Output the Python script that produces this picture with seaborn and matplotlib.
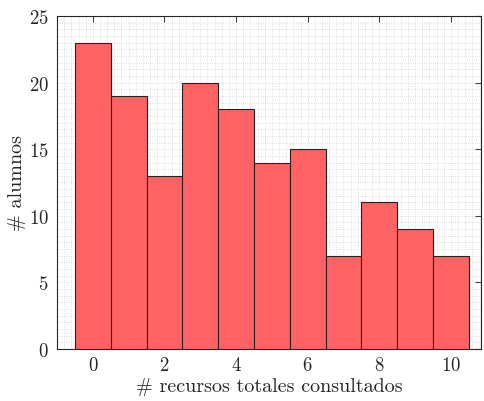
import numpy as np
import matplotlib
matplotlib.use('Agg')
import matplotlib.pyplot as plt
import seaborn as sns
from matplotlib.ticker import MultipleLocator

# recursos consultados (0..10) and number of students for each
recursos = [0, 1, 2, 3, 4, 5, 6, 7, 8, 9, 10]
alumnos = [23, 19, 13, 20, 18, 14, 15, 7, 11, 9, 7]

sns.set_style('white')
plt.rcParams['font.family'] = ['cmr10', 'DejaVu Serif']
plt.rcParams['axes.formatter.use_mathtext'] = True
plt.rcParams['mathtext.fontset'] = 'cm'

fig = plt.figure(figsize=(4.84, 4.02), dpi=100)
ax = fig.add_axes([0.1178, 0.1294, 0.876, 0.8283])

sns.histplot(x=recursos, weights=alumnos, discrete=True, ax=ax,
             color='#ff6262', alpha=1.0, edgecolor='#2a2020', linewidth=0.8,
             zorder=3)

ax.set_xlim(-1.0, 10.84)
ax.set_ylim(0, 25)
ax.xaxis.set_major_locator(MultipleLocator(2))
ax.yaxis.set_major_locator(MultipleLocator(5))
ax.xaxis.set_minor_locator(MultipleLocator(0.2))
ax.yaxis.set_minor_locator(MultipleLocator(0.5))
ax.grid(which='minor', color='#d4d4d4', linestyle=':', linewidth=0.6, zorder=0)
ax.grid(which='major', color='#d4d4d4', linestyle=':', linewidth=0.6, zorder=0)
ax.set_axisbelow(True)

ax.tick_params(which='major', direction='in', length=4, width=0.8, color='#404040',
               top=True, right=True, labelsize=13.5)
ax.tick_params(axis='x', which='major', pad=5)
ax.tick_params(axis='y', which='major', pad=6)
ax.tick_params(which='minor', length=0)
for s in ax.spines.values():
    s.set_color('#262626')
    s.set_linewidth(0.8)
    s.set_visible(True)

ax.set_xlabel('# recursos totales consultados', fontsize=14.5, labelpad=2)
ax.set_ylabel('# alumnos', fontsize=14.5, labelpad=2)

fig.savefig('out.png', dpi=100)
